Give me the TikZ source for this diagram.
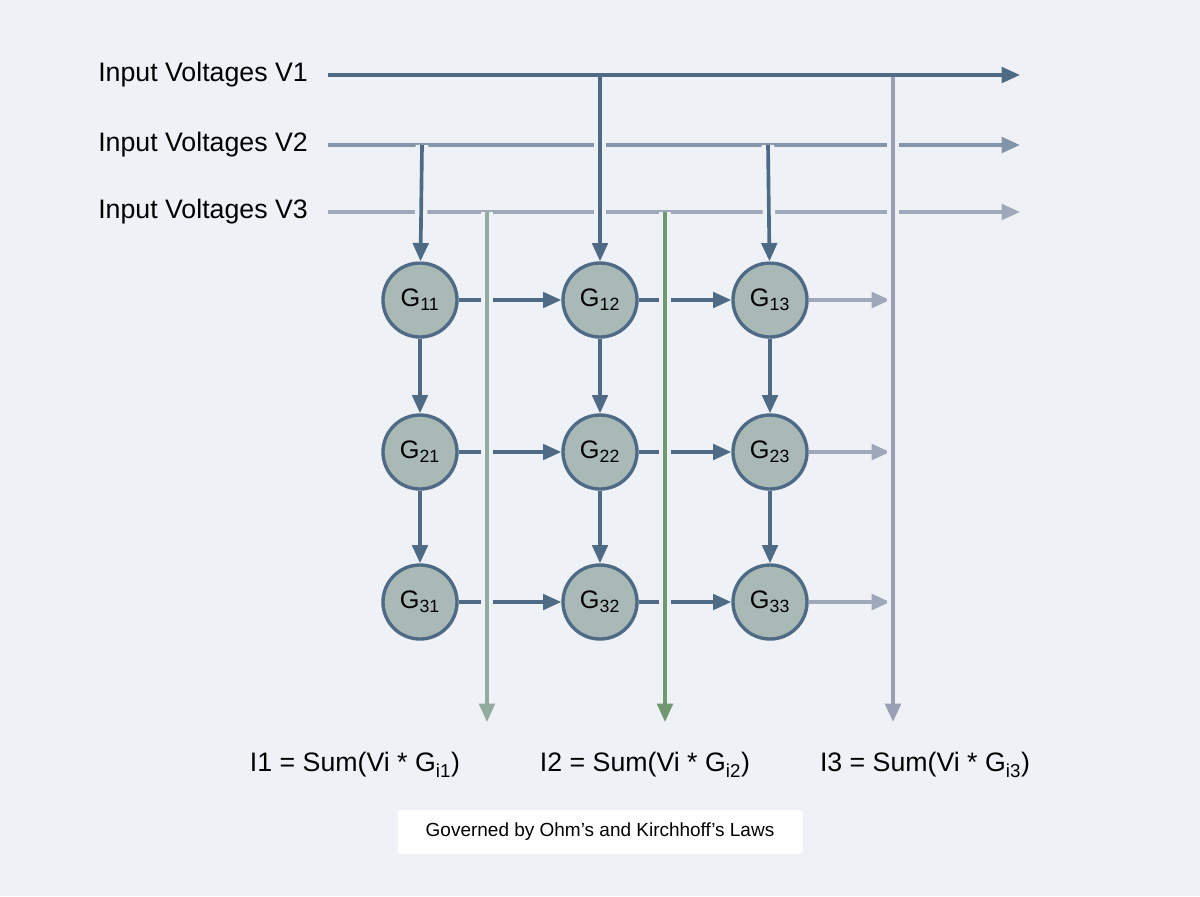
\documentclass[tikz,border=0pt]{standalone}
\usepackage{fontspec}
\setmainfont{Liberation Sans}
\usetikzlibrary{arrows.meta}
\definecolor{bg}{HTML}{EEF1F5}
\definecolor{darkline}{HTML}{4E6A85}
\definecolor{midline}{HTML}{8395A8}
\definecolor{paleline}{HTML}{9EA8B8}
\definecolor{cellfill}{HTML}{A9B9B6}
\definecolor{sumA}{HTML}{93AA9E}
\definecolor{sumB}{HTML}{6F9870}
\definecolor{sumC}{HTML}{9B9FB6}
\tikzset{
  cell/.style={circle, draw=darkline, line width=2.4pt, fill=cellfill,
    minimum size=1.85cm, inner sep=0pt, font=\fontsize{18}{20}\selectfont},
  wire/.style={line width=2.6pt, -{Triangle[length=13pt,width=11pt]}},
  label/.style={font=\fontsize{19}{22}\selectfont, inner sep=0pt},
  bridge/.style={preaction={draw=bg, line width=9pt, arrows=-}}
}
\begin{document}
\begin{tikzpicture}[x=0.025cm, y=-0.025cm, >=Triangle]
  \fill[bg] (0,0) rectangle (1200,896);
  \useasboundingbox (0,0) rectangle (1200,896);

  % input rows
  \node[label, anchor=west] (v1) at (98,75) {Input Voltages V1};
  \node[label, anchor=west] (v2) at (98,145) {Input Voltages V2};
  \node[label, anchor=west] (v3) at (98,212) {Input Voltages V3};
  \coordinate (v1e) at (1020,75);
  \coordinate (v2e) at (1020,145);
  \coordinate (v3e) at (1020,212);
  \draw[wire, paleline] (v3.east) ++(20,0) -- (v3e);
  \draw[wire, midline] (v2.east) ++(20,0) -- (v2e);

  % crossbar cells
  \foreach \r/\y in {1/300, 2/452, 3/602}
    \foreach \c/\x in {1/420, 2/600, 3/770}
      \node[cell] (G\r\c) at (\x,\y) {G\textsubscript{\r\c}};

  % row and column links
  \foreach \r in {1,2,3} {
    \draw[wire, darkline] (G\r1) -- (G\r2);
    \draw[wire, darkline] (G\r2) -- (G\r3);
    \coordinate (o\r) at (890,0 |- G\r3);
    \draw[wire, paleline] (G\r3) -- (o\r);
  }
  \foreach \c in {1,2,3} {
    \draw[wire, darkline] (G1\c) -- (G2\c);
    \draw[wire, darkline] (G2\c) -- (G3\c);
  }

  % feeds from the input rows
  \coordinate (f11) at (422,145);
  \coordinate (f12) at (600,75);
  \coordinate (f13) at (768,145);
  \draw[wire, darkline, bridge] (f11) -- (G11);
  \draw[wire, darkline, bridge] (f12) -- (G12);
  \draw[wire, darkline, bridge] (f13) -- (G13);

  % output columns
  \coordinate (c1) at (487,212);
  \coordinate (c2) at (665,212);
  \coordinate (c3) at (893,75);
  \coordinate (s1) at (487,722);
  \coordinate (s2) at (665,722);
  \coordinate (s3) at (893,722);
  \draw[wire, sumA, bridge] (c1) -- (s1);
  \draw[wire, sumB, bridge] (c2) -- (s2);
  \draw[wire, sumC, bridge] (c3) -- (s3);
  \draw[wire, darkline] (v1.east) ++(20,0) -- (v1e);

  % sums
  \node[label] (i1) at (355,765) {I1 = Sum(Vi * G\textsubscript{i1})};
  \node[label] (i2) at (645,765) {I2 = Sum(Vi * G\textsubscript{i2})};
  \node[label] (i3) at (925,765) {I3 = Sum(Vi * G\textsubscript{i3})};

  \node[fill=white, rounded corners=2pt, minimum width=405*0.025cm,
    minimum height=44*0.025cm, font=\fontsize{13.5}{16}\selectfont] (law)
    at (600,832) {Governed by Ohm’s and Kirchhoff’s Laws};
\end{tikzpicture}
\end{document}
